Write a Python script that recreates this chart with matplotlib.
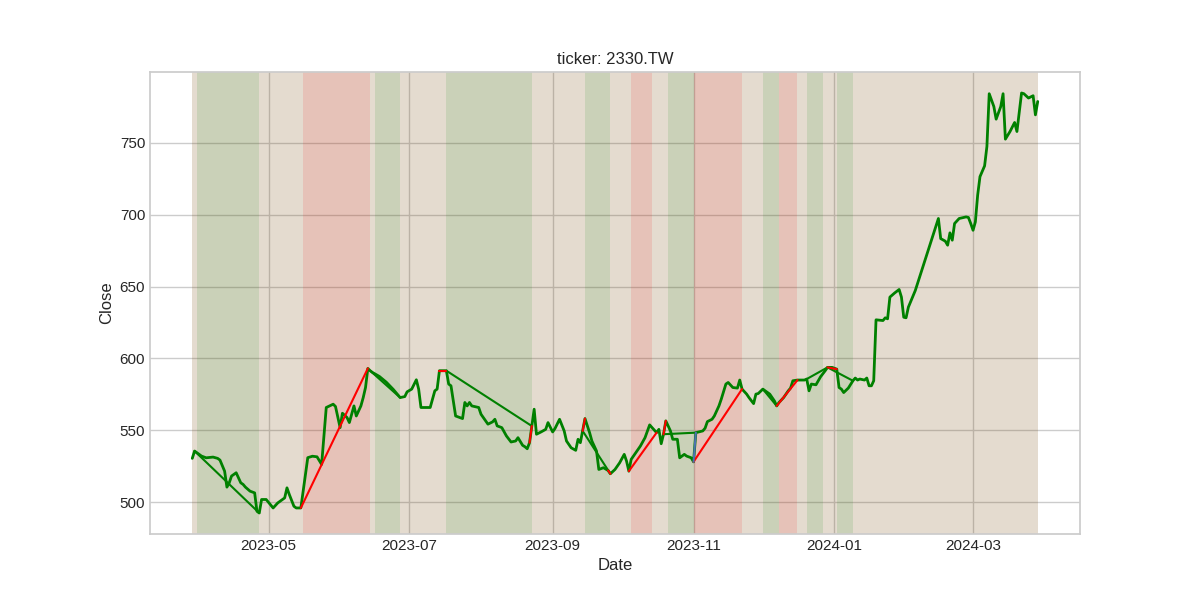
import matplotlib
matplotlib.use("Agg")
import matplotlib.pyplot as plt
import matplotlib.dates as mdates
import seaborn as sns
import pandas as pd

# ---- data ----
dates = [
    "2023-03-29", "2023-03-30", "2023-04-02", "2023-04-04", "2023-04-07", "2023-04-09",
    "2023-04-10", "2023-04-12", "2023-04-13", "2023-04-14", "2023-04-15", "2023-04-17",
    "2023-04-19", "2023-04-20", "2023-04-21", "2023-04-23", "2023-04-25", "2023-04-26",
    "2023-04-27", "2023-04-28", "2023-04-30", "2023-05-03", "2023-05-05", "2023-05-08",
    "2023-05-09", "2023-05-10", "2023-05-12", "2023-05-13", "2023-05-15", "2023-05-18",
    "2023-05-20", "2023-05-22", "2023-05-24", "2023-05-26", "2023-05-29", "2023-05-30",
    "2023-06-01", "2023-06-02", "2023-06-04", "2023-06-05", "2023-06-07", "2023-06-08",
    "2023-06-10", "2023-06-11", "2023-06-12", "2023-06-13", "2023-06-14", "2023-06-15",
    "2023-06-18", "2023-06-21", "2023-06-24", "2023-06-27", "2023-06-29", "2023-06-30",
    "2023-07-02", "2023-07-04", "2023-07-05", "2023-07-06", "2023-07-10", "2023-07-12",
    "2023-07-13", "2023-07-14", "2023-07-17", "2023-07-18", "2023-07-19", "2023-07-21",
    "2023-07-24", "2023-07-25", "2023-07-26", "2023-07-27", "2023-07-28", "2023-07-31",
    "2023-08-01", "2023-08-04", "2023-08-06", "2023-08-07", "2023-08-08", "2023-08-10",
    "2023-08-12", "2023-08-14", "2023-08-16", "2023-08-17", "2023-08-19", "2023-08-20",
    "2023-08-21", "2023-08-22", "2023-08-23", "2023-08-24", "2023-08-25", "2023-08-27",
    "2023-08-29", "2023-08-30", "2023-09-01", "2023-09-02", "2023-09-04", "2023-09-06",
    "2023-09-07", "2023-09-09", "2023-09-11", "2023-09-12", "2023-09-13", "2023-09-14",
    "2023-09-15", "2023-09-17", "2023-09-18", "2023-09-20", "2023-09-21", "2023-09-23",
    "2023-09-25", "2023-09-26", "2023-09-28", "2023-09-30", "2023-10-02", "2023-10-03",
    "2023-10-04", "2023-10-05", "2023-10-09", "2023-10-11", "2023-10-13", "2023-10-16",
    "2023-10-17", "2023-10-18", "2023-10-19", "2023-10-20", "2023-10-22", "2023-10-23",
    "2023-10-25", "2023-10-26", "2023-10-28", "2023-10-29", "2023-10-31", "2023-11-01",
    "2023-11-02", "2023-11-05", "2023-11-06", "2023-11-07", "2023-11-09", "2023-11-10",
    "2023-11-12", "2023-11-13", "2023-11-15", "2023-11-16", "2023-11-18", "2023-11-20",
    "2023-11-21", "2023-11-22", "2023-11-24", "2023-11-25", "2023-11-27", "2023-11-28",
    "2023-11-29", "2023-12-01", "2023-12-02", "2023-12-04", "2023-12-05", "2023-12-06",
    "2023-12-07", "2023-12-08", "2023-12-10", "2023-12-12", "2023-12-13", "2023-12-14",
    "2023-12-16", "2023-12-19", "2023-12-20", "2023-12-21", "2023-12-22", "2023-12-24",
    "2023-12-26", "2023-12-28", "2023-12-29", "2023-12-31", "2024-01-02", "2024-01-03",
    "2024-01-04", "2024-01-05", "2024-01-07", "2024-01-09", "2024-01-10", "2024-01-11",
    "2024-01-12", "2024-01-14", "2024-01-15", "2024-01-16", "2024-01-17", "2024-01-18",
    "2024-01-19", "2024-01-22", "2024-01-23", "2024-01-24", "2024-01-25", "2024-01-27",
    "2024-01-29", "2024-01-30", "2024-01-31", "2024-02-01", "2024-02-02", "2024-02-05",
    "2024-02-15", "2024-02-16", "2024-02-18", "2024-02-19", "2024-02-20", "2024-02-21",
    "2024-02-22", "2024-02-24", "2024-02-27", "2024-02-28", "2024-02-29", "2024-03-01",
    "2024-03-02", "2024-03-03", "2024-03-04", "2024-03-06", "2024-03-07", "2024-03-08",
    "2024-03-10", "2024-03-11", "2024-03-13", "2024-03-14", "2024-03-15", "2024-03-17",
    "2024-03-19", "2024-03-20", "2024-03-22", "2024-03-23", "2024-03-25", "2024-03-27",
    "2024-03-28", "2024-03-29",
]

close = [
    530.5, 535.6, 532.1, 530.9, 531.4, 530.5,
    529.3, 521.6, 510.5, 513.5, 518.2, 520.5,
    513.5, 512.4, 510.5, 507.7, 506.5, 493.7,
    492.5, 501.9, 501.9, 496.0, 499.5, 503.0,
    510.0, 505.4, 497.2, 496.0, 496.0, 531.0,
    532.0, 531.6, 526.3, 565.9, 568.2, 566.6,
    551.9, 561.9, 558.9, 555.4, 567.0, 560.0,
    567.0, 572.8, 579.8, 593.1, 591.5, 590.3,
    587.5, 583.5, 578.5, 572.8, 573.5, 576.8,
    578.7, 585.2, 578.7, 565.9, 565.9, 577.5,
    578.7, 591.5, 591.5, 582.2, 581.0, 560.0,
    558.2, 569.4, 567.0, 569.4, 567.0, 565.9,
    561.2, 554.3, 555.9, 557.7, 553.1, 551.9,
    546.1, 541.9, 542.6, 544.9, 539.6, 538.6,
    537.2, 541.4, 553.0, 564.7, 547.3, 548.9,
    550.7, 555.4, 548.9, 551.2, 557.7, 549.6,
    542.6, 537.9, 536.1, 543.8, 541.4, 549.6,
    558.2, 548.4, 542.6, 535.6, 522.8, 524.0,
    522.1, 519.8, 522.8, 527.4, 533.3, 528.6,
    521.6, 529.8, 539.1, 544.9, 553.8, 548.4,
    550.7, 540.7, 547.3, 556.6, 549.6, 543.8,
    543.8, 530.9, 533.3, 532.1, 530.9, 528.1,
    548.4, 549.6, 551.5, 556.1, 557.7, 560.0,
    567.0, 571.7, 582.2, 583.3, 579.8, 579.4,
    585.0, 578.7, 575.2, 572.8, 568.6, 575.2,
    575.6, 578.7, 577.5, 575.2, 572.8, 570.5,
    567.0, 569.4, 572.8, 577.5, 579.4, 584.5,
    585.0, 585.0, 585.7, 577.5, 582.2, 581.7,
    587.3, 591.5, 593.8, 593.8, 592.6, 579.8,
    578.7, 576.3, 579.4, 584.5, 586.4, 585.0,
    585.7, 585.0, 586.4, 581.0, 581.0, 584.5,
    626.9, 626.4, 628.3, 627.6, 642.7, 645.5,
    648.0, 642.7, 628.7, 628.3, 635.7, 647.3,
    697.4, 683.4, 681.6, 678.8, 687.4, 682.3,
    693.9, 697.4, 698.5, 698.1, 693.9, 689.2,
    695.0, 713.7, 726.5, 734.0, 747.5, 784.2,
    775.3, 766.5, 775.3, 784.2, 752.6, 757.9,
    764.2, 757.9, 784.7, 784.2, 781.2, 782.8,
    769.5, 778.8,
]

# regime spans (drawn over a base span covering the whole period)
span_starts = ["2023-03-31", "2023-05-16", "2023-06-16", "2023-07-17", "2023-09-15",
               "2023-10-05", "2023-10-21", "2023-11-01", "2023-12-01", "2023-12-08",
               "2023-12-20", "2024-01-02"]
span_ends = ["2023-04-27", "2023-06-14", "2023-06-27", "2023-08-23", "2023-09-26",
             "2023-10-14", "2023-11-01", "2023-11-22", "2023-12-08", "2023-12-16",
             "2023-12-27", "2024-01-09"]
span_regimes = ["up", "down", "up", "up", "up",
                "down", "up", "down", "up", "down",
                "up", "up"]

# regime connector segments (between two dates of the close series)
seg_starts = ["2023-03-30", "2023-06-14", "2023-07-17", "2023-09-14", "2023-10-19",
              "2023-12-01", "2023-12-20", "2023-12-29",
              "2023-05-15", "2023-07-14", "2023-08-22", "2023-09-14", "2023-09-25",
              "2023-10-04", "2023-10-19", "2023-11-01", "2023-12-07", "2023-12-29",
              "2023-11-01"]
seg_ends = ["2023-04-27", "2023-06-27", "2023-08-23", "2023-09-26", "2023-11-02",
            "2023-12-07", "2023-12-29", "2024-01-09",
            "2023-06-13", "2023-07-17", "2023-08-23", "2023-09-15", "2023-09-26",
            "2023-10-16", "2023-10-20", "2023-11-22", "2023-12-16", "2024-01-02",
            "2023-11-02"]
seg_kinds = ["up"] * 8 + ["down"] * 10 + ["flat"]

# ---- styling ----
sns.set_theme(style="whitegrid")
plt.rcParams["font.family"] = ["Liberation Sans", "DejaVu Sans"]
plt.rcParams["xtick.major.size"] = 0
plt.rcParams["ytick.major.size"] = 0

span_colors = {"up": "green", "down": "red"}
seg_colors = {"up": "green", "down": "red", "flat": "#4c72b0"}

fig, ax = plt.subplots(figsize=(12, 6), dpi=100)

s = pd.Series(close, index=pd.to_datetime(dates))

ax.axvspan(s.index[0], s.index[-1], color="#784b0f", alpha=0.2, lw=0, zorder=1)
for st, en, rg in zip(span_starts, span_ends, span_regimes):
    ax.axvspan(pd.Timestamp(st), pd.Timestamp(en), color=span_colors[rg],
               alpha=0.11, lw=0, zorder=1)

ax.plot(s.index, s.values, color="green", lw=2, zorder=2)

for st, en, kd in zip(seg_starts, seg_ends, seg_kinds):
    a, b = pd.Timestamp(st), pd.Timestamp(en)
    ax.plot([a, b], [s[a], s[b]], color=seg_colors[kd], lw=1.5,
            zorder=1.9 if kd == "up" else 3)

ax.set_title("ticker: 2330.TW")
ax.set_xlabel("Date")
ax.set_ylabel("Close")
ax.xaxis.set_major_locator(mdates.MonthLocator(bymonth=[1, 3, 5, 7, 9, 11]))
ax.xaxis.set_major_formatter(mdates.DateFormatter("%Y-%m"))

fig.savefig("out.png", dpi=100)
